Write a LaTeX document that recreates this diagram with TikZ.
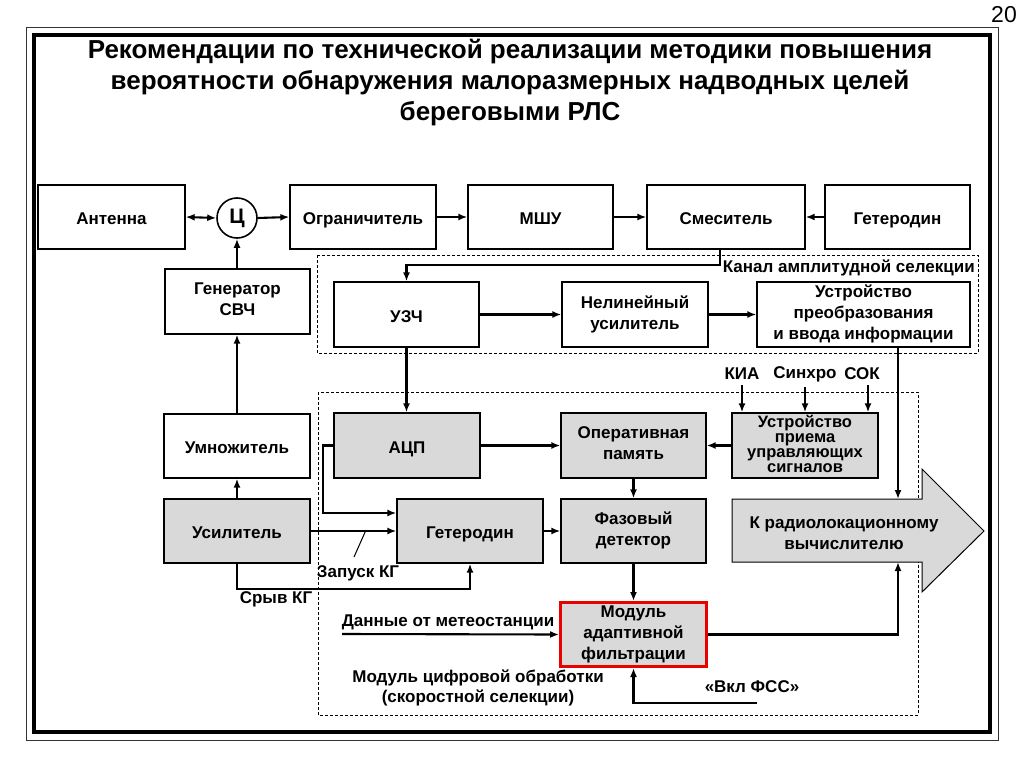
\documentclass[tikz,border=0pt]{standalone}
\usepackage{fontspec}
\setmainfont{Liberation Sans}
\usetikzlibrary{arrows.meta,calc}
\definecolor{boxgray}{RGB}{217,217,217}
\definecolor{redb}{RGB}{235,0,0}
\newcommand\bstrut{\rule{0pt}{19pt}\rule[-4pt]{0pt}{4pt}}
\newcommand\tightlines{\lineskiplimit=-8pt\relax\lineskip=0pt\relax}
\begin{document}
\begin{tikzpicture}[x=1pt,y=-1pt,
  blk/.style={draw,line width=1.3pt,minimum width=146pt,minimum height=65pt,inner sep=0pt,align=center,font=\fontsize{17}{21}\selectfont\bfseries,execute at begin node=\bstrut,execute at end node=\bstrut},
  gblk/.style={blk,fill=boxgray},
  conn/.style={line width=2.1pt,-{Latex[length=9pt,width=7pt]}},
  lbl/.style={font=\fontsize{17}{20}\selectfont\bfseries,inner sep=0pt,align=center},
  dashbox/.style={draw,line width=0.8pt,dash pattern=on 3pt off 2pt}
]
\useasboundingbox (0,0) rectangle (1024,767);
\fill[white] (0,0) rectangle (1024,767);
% frames
\draw[line width=0.9pt,black!80] (26,27) rectangle (998,740);
\draw[line width=3.5pt] (34,35) rectangle (990,732);
\node[font=\fontsize{23}{23}\selectfont,inner sep=0pt] (pg) at (1004,15) {20};
% title
\node[font=\fontsize{26}{31}\selectfont\bfseries,align=center,inner sep=0pt] (title) at (510,83)
 {Рекомендации по технической реализации методики повышения\\вероятности обнаружения малоразмерных надводных целей\\береговыми РЛС};

% dashed groups
\draw[dashbox] (317,255) rectangle (978,353);
\draw[dashbox] (318,392) rectangle (918,715);

% row 1
\node[blk,minimum width=147pt,minimum height=64pt] (ant) at (111.5,217) {Антенна};
\node[draw,circle,line width=1.6pt,minimum size=40pt,inner sep=0pt,font=\fontsize{21}{21}\selectfont\bfseries] (c) at (237,218) {Ц};
\node[blk,minimum height=64pt] (ogr) at (363,217) {Ограничитель};
\node[blk,minimum width=145pt,minimum height=64pt] (mshu) at (540.5,217) {МШУ};
\node[blk,minimum width=158pt,minimum height=64pt] (smes) at (726,217) {Смеситель};
\node[blk,minimum width=145pt,minimum height=64pt] (get1) at (897.5,217) {Гетеродин};

% row 2
\node[blk,minimum width=145pt] (gen) at (237.5,301.5) {Генератор\\СВЧ};
\node[blk,minimum width=145pt] (uzch) at (406.5,314.5) {УЗЧ};
\node[blk] (nel) at (635,314.5) {Нелинейный\\усилитель};
\node[blk,minimum width=213pt] (ustr) at (863.5,314.5) {Устройство\\преобразования\\и ввода информации};
\node[lbl,anchor=east] (kanal) at (975,268) {Канал амплитудной селекции};

% left column
\node[blk,minimum height=64pt] (umn) at (237,446) {Умножитель};
\node[gblk,minimum height=64pt] (usil) at (237,531) {Усилитель};

% digital module
\node[gblk] (acp) at (407,445.5) {АЦП};
\node[gblk,minimum width=145pt] (op) at (633.5,445.5) {Оперативная\\память};
\node[gblk,font=\fontsize{16.5}{15}\selectfont\bfseries\tightlines] (upr) at (805,445.5) {Устройство\\приема\\управляющих\\сигналов};
\node[gblk,minimum height=64pt] (get2) at (470,531) {Гетеродин};
\node[gblk,minimum width=145pt,minimum height=64pt] (faz) at (633.5,531) {Фазовый\\детектор};
\node[gblk,draw=redb,line width=3pt,minimum width=146pt,minimum height=64pt] (mod) at (633.5,634.5) {Модуль\\адаптивной\\фильтрации};

\node[lbl] (kia) at (742,374) {КИА};
\node[lbl] (sin) at (805,374) {Синхро};
\node[lbl] (sok) at (862,374) {СОК};

% big arrow
\draw[line width=1pt,fill=boxgray] (732,499) -- (922,499) -- (922,469) -- (984,531) -- (922,592) -- (922,562) -- (732,562) -- cycle;
\node[lbl,font=\fontsize{17}{21}\selectfont\bfseries] (big) at (844,533) {К радиолокационному\\вычислителю};
\coordinate (bigtop) at (898,499);
\coordinate (bigbot) at (898,562);

% labels
\node[lbl] (zap) at (358,573) {Запуск КГ};
\node[lbl] (sryv) at (276,599) {Срыв КГ};
\node[lbl] (dan) at (448,622) {Данные от метеостанции};
\node[lbl] (mcf) at (478,688) {Модуль цифровой обработки\\(скоростной селекции)};
\node[lbl] (vkl) at (752,687) {«Вкл ФСС»};
\coordinate (danstart) at (342,634);
\coordinate (vklstart) at (757,703);

% connectors row 1
\draw[line width=2.1pt,{Latex[length=9pt,width=7pt]}-{Latex[length=9pt,width=7pt]}] (ant.east) -- (c.west);
\draw[conn] (c.east) -- (ogr.west);
\draw[conn] (ogr.east) -- (mshu.west);
\draw[conn] (mshu.east) -- (smes.west);
\draw[conn] (get1.west) -- (smes.east);
\draw[conn] (gen.north -| c.south) -- (c.south);
\draw[conn] (umn.north) -- (umn.north |- gen.south);
\draw[conn] (usil.north) -- (umn.south);

% channel
\draw[conn] ([xshift=-6pt]smes.south) |- (uzch.north |- 0,265) -- (uzch.north);
\draw[conn] (uzch.east) -- (nel.west);
\draw[conn] (nel.east) -- (ustr.west);
\draw[conn] (ustr.south -| bigtop) -- (bigtop);
\draw[conn] (uzch.south) -- (uzch.south |- acp.north);

% digital
\draw[conn] (acp.east) -- (acp.east -| op.west);
\draw[conn] (upr.west) -- (upr.west -| op.east);
\draw[conn] ([yshift=-5pt]kia.south) coordinate (k1) -- (k1 |- upr.north);
\draw[conn] ([yshift=-5pt]sin.south) coordinate (k2) -- (k2 |- upr.north);
\draw[conn] ([xshift=6pt,yshift=-5pt]sok.south) coordinate (k3) -- (k3 |- upr.north);
\draw[conn] (op.south) -- (op.south |- faz.north);
\draw[conn] (get2.east) -- (faz.west);
\draw[conn] (acp.west) -- ++(-10,0) |- ([yshift=18pt]get2.west);
\draw[conn] (usil.east) -- (get2.west);
\draw[line width=1pt] (366,530) -- (354,557);
\draw[conn] (usil.south) |- (get2.south |- 0,589) -- (get2.south);
\draw[conn] (faz.south) -- (mod.north);
\draw[conn] (danstart) -- (mod.west);
\draw[conn] (mod.east) -| (bigbot);
\draw[conn] (vklstart) -| (mod.south);
\end{tikzpicture}
\end{document}
